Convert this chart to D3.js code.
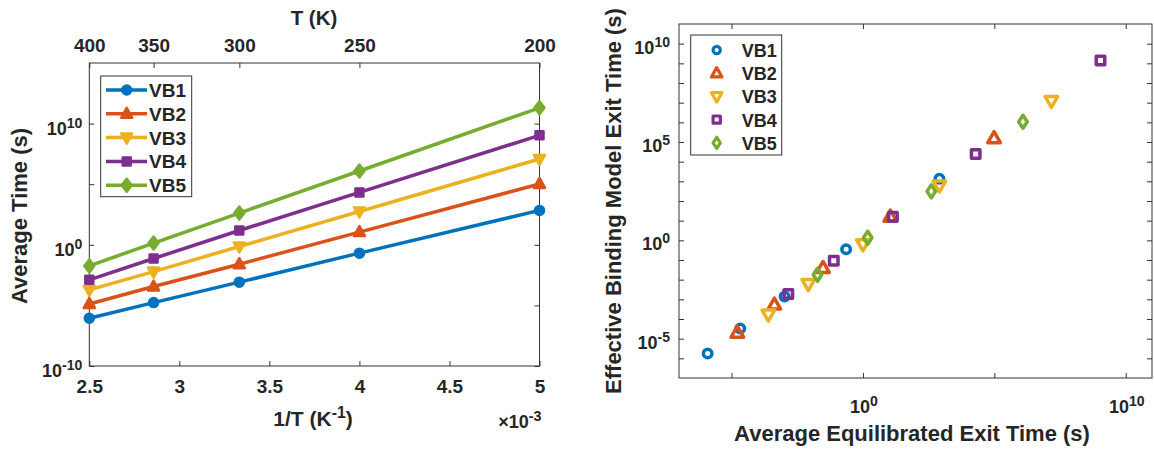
<!DOCTYPE html>
<html>
<head>
<meta charset="utf-8">
<script src="https://cdn.jsdelivr.net/npm/d3@7"></script>
<style>
  body { margin: 0; background: #fff; }
  svg text { font-family: "Liberation Sans", Arial, sans-serif; fill: #262626; font-weight: bold; }
  .axis path, .axis line { stroke: #333; }
</style>
</head>
<body>
<div id="chart"></div>
<script>
// Data (log10 of times, in s)
const series = ['VB1', 'VB2', 'VB3', 'VB4', 'VB5'];
const colors = ['#0072BD', '#D95319', '#EDB120', '#7E2F8E', '#77AC30'];
const shapes = ['circle', 'triangle', 'down', 'square', 'diamond'];

// left panel: 1/T (x 1e-3) vs average time
const invT = [2.5, 2.857, 3.333, 4, 5];
const tempTicks = [400, 350, 300, 250, 200];
const vb1Log = [-6.06, -4.77, -3.08, -0.69, 2.84];
const vb2Log = [-4.88, -3.44, -1.60, 1.05, 5.02];
const vb3Log = [-3.72, -2.21, -0.14, 2.75, 7.08];
const vb4Log = [-2.89, -1.13, 1.18, 4.32, 9.03];
const vb5Log = [-1.74, 0.14, 2.62, 6.09, 11.30];
const leftLogs = [vb1Log, vb2Log, vb3Log, vb4Log, vb5Log];

// right panel: equilibrated exit time (x) vs effective binding model exit time (y)
const eqX = [
  [-5.91, -4.67, -2.98, -0.64, 2.91],
  [-4.78, -3.37, -1.52, 1.04, 4.99],
  [-3.60, -2.08, 0.00, 2.91, 7.17],
  [-2.84, -1.11, 1.14, 4.29, 9.04],
  [-1.73, 0.18, 2.60, 6.09]
];
const ebY = [
  [-5.76, -4.48, -2.85, -0.45, 3.13],
  [-4.70, -3.27, -1.41, 1.20, 5.19],
  [-3.77, -2.22, -0.20, 2.79, 7.09],
  [-2.73, -1.04, 1.20, 4.39, 9.14],
  [-1.75, 0.13, 2.49, 6.03]
];

const svg = d3.select('#chart').append('svg')
  .attr('width', 1154).attr('height', 451);

// marker path: w = full width, h = full height
function markerPath(shape, w, h) {
  if (shape === 'circle') return d3.symbol(d3.symbolCircle, Math.PI * (w / 2) * (w / 2))();
  if (shape === 'square') return d3.symbol(d3.symbolSquare, w * w)();
  if (shape === 'diamond') return 'M0,' + (-h / 2) + 'L' + (w / 2) + ',0L0,' + (h / 2) + 'L' + (-w / 2) + ',0Z';
  if (shape === 'triangle') return 'M0,' + (-h * 0.6) + 'L' + (w / 2) + ',' + (h * 0.4) + 'L' + (-w / 2) + ',' + (h * 0.4) + 'Z';
  return 'M0,' + (h * 0.6) + 'L' + (w / 2) + ',' + (-h * 0.4) + 'L' + (-w / 2) + ',' + (-h * 0.4) + 'Z';
}
// sizes per shape [w, h]
const leftSize = { circle: [9, 9], triangle: [11, 10], down: [11, 10], square: [8, 8], diamond: [10, 13] };
const rightSize = { circle: [8.5, 8.5], triangle: [12.5, 11], down: [12.5, 11], square: [8.5, 8.5], diamond: [8.5, 13] };

// power-of-ten label with superscript
function powLabel(sel, exp) {
  sel.text('10');
  sel.append('tspan').attr('dy', '-0.5em').attr('font-size', '0.78em').text(exp);
}

// ---------- Left panel ----------
let L = { left: 89.3, right: 539.5, top: 63, bottom: 366 };
let x1 = d3.scaleLinear().domain([2.5, 5]).range([L.left, L.right]);
let y1 = d3.scaleLog().domain([1e-10, 1e15]).range([L.bottom, L.top]);

let g1 = svg.append('g');
g1.append('rect').attr('x', L.left).attr('y', L.top)
  .attr('width', L.right - L.left).attr('height', L.bottom - L.top)
  .attr('fill', 'none').attr('stroke', '#333');

// bottom axis
let xAxis1 = d3.axisBottom(x1).tickValues([2.5, 3, 3.5, 4, 4.5, 5])
  .tickSizeInner(-5).tickSizeOuter(0).tickPadding(0).tickFormat(d3.format('~g'));
g1.append('g').attr('class', 'axis').attr('transform', 'translate(0,' + L.bottom + ')')
  .call(xAxis1)
  .call(g => g.select('.domain').remove())
  .selectAll('text').attr('font-size', 19).attr('dy', null).attr('y', 27);

// top axis with temperatures
let xAxisTop = d3.axisTop(x1).tickValues(tempTicks.map(t => 1000 / t))
  .tickSizeInner(-5).tickSizeOuter(0).tickPadding(0).tickFormat((d, i) => tempTicks[i]);
g1.append('g').attr('class', 'axis').attr('transform', 'translate(0,' + L.top + ')')
  .call(xAxisTop)
  .call(g => g.select('.domain').remove())
  .selectAll('text').attr('font-size', 19).attr('dy', null).attr('y', -11);

// y ticks
let yTicks1 = [1e-10, 1e-5, 1, 1e5, 1e10];
g1.append('g').attr('class', 'axis').attr('transform', 'translate(' + L.left + ',0)')
  .call(d3.axisLeft(y1).tickValues(yTicks1).tickSizeInner(-5).tickSizeOuter(0).tickFormat(''))
  .call(g => g.select('.domain').remove());
g1.append('g').attr('class', 'axis').attr('transform', 'translate(' + L.right + ',0)')
  .call(d3.axisRight(y1).tickValues(yTicks1).tickSizeInner(-5).tickSizeOuter(0).tickFormat(''))
  .call(g => g.select('.domain').remove());
[-10, 0, 10].forEach(e => {
  let t = g1.append('text').attr('x', L.left - 7).attr('y', y1(Math.pow(10, e)) + 11)
    .attr('text-anchor', 'end').attr('font-size', 18).attr('font-weight', 'normal');
  powLabel(t, e);
});

// titles
g1.append('text').attr('x', 314).attr('y', 25)
  .attr('text-anchor', 'middle').attr('font-size', 20.5).text('T (K)');
let xt = g1.append('text').attr('x', 313).attr('y', 426)
  .attr('text-anchor', 'middle').attr('font-size', 21).text('1/T (K');
xt.append('tspan').attr('dy', '-0.5em').attr('font-size', '0.75em').text('-1');
xt.append('tspan').attr('dy', '0.375em').text(')');
let sc = g1.append('text').attr('x', L.right + 2).attr('y', 428)
  .attr('text-anchor', 'end').attr('font-size', 18).attr('font-weight', 'normal').text('\u00d710');
sc.append('tspan').attr('dy', '-0.5em').attr('font-size', '0.8em').text('-3');
g1.append('text').attr('transform', 'translate(27,216) rotate(-90)')
  .attr('text-anchor', 'middle').attr('font-size', 22).text('Average Time (s)');

// lines and markers
let line1 = d3.line().x(d => x1(d[0])).y(d => y1(Math.pow(10, d[1])));
leftLogs.forEach((vals, i) => {
  let pts = invT.map((x, j) => [x, vals[j]]);
  let sz = leftSize[shapes[i]];
  g1.append('path').datum(pts).attr('d', line1)
    .attr('fill', 'none').attr('stroke', colors[i]).attr('stroke-width', 3.5);
  g1.selectAll('.m' + i).data(pts).enter().append('path')
    .attr('transform', d => 'translate(' + x1(d[0]) + ',' + y1(Math.pow(10, d[1])) + ')')
    .attr('d', markerPath(shapes[i], sz[0], sz[1]))
    .attr('fill', colors[i]).attr('stroke', colors[i]).attr('stroke-width', 2.5)
    .attr('stroke-linejoin', 'round');
});

// legend
let lg1 = g1.append('g');
lg1.append('rect').attr('x', 100.7).attr('y', 76).attr('width', 91).attr('height', 120.7)
  .attr('fill', '#fff').attr('stroke', '#333');
series.forEach((s, i) => {
  let yy = 90 + i * 23.8;
  let sz = leftSize[shapes[i]];
  lg1.append('line').attr('x1', 106).attr('x2', 147).attr('y1', yy).attr('y2', yy)
    .attr('stroke', colors[i]).attr('stroke-width', 3.5);
  lg1.append('path').attr('transform', 'translate(126.7,' + yy + ')')
    .attr('d', markerPath(shapes[i], sz[0], sz[1])).attr('fill', colors[i])
    .attr('stroke', colors[i]).attr('stroke-width', 2.5).attr('stroke-linejoin', 'round');
  lg1.append('text').attr('x', 149).attr('y', yy + 7).attr('font-size', 19).text(s);
});

// ---------- Right panel ----------
let R = { left: 679, right: 1152, top: 24, bottom: 378 };
let x2 = d3.scaleLog().domain([1e-7, 1e11]).range([R.left, R.right]);
let y2 = d3.scaleLog().domain([1e-7, 1e11]).range([R.bottom, R.top]);

let g2 = svg.append('g');
g2.append('rect').attr('x', R.left).attr('y', R.top)
  .attr('width', R.right - R.left).attr('height', R.bottom - R.top)
  .attr('fill', 'none').attr('stroke', '#333');

let xTicks2 = [1e-5, 1, 1e5, 1e10];
let yTicks2 = d3.range(-6, 11).map(e => Math.pow(10, e));
g2.append('g').attr('class', 'axis').attr('transform', 'translate(0,' + R.bottom + ')')
  .call(d3.axisBottom(x2).tickValues(xTicks2).tickSizeInner(-5).tickSizeOuter(0).tickFormat(''))
  .call(g => g.select('.domain').remove());
g2.append('g').attr('class', 'axis').attr('transform', 'translate(0,' + R.top + ')')
  .call(d3.axisTop(x2).tickValues(xTicks2).tickSizeInner(-5).tickSizeOuter(0).tickFormat(''))
  .call(g => g.select('.domain').remove());
g2.append('g').attr('class', 'axis').attr('transform', 'translate(' + R.left + ',0)')
  .call(d3.axisLeft(y2).tickValues(yTicks2).tickSizeInner(-5).tickSizeOuter(0).tickFormat(''))
  .call(g => g.select('.domain').remove());
g2.append('g').attr('class', 'axis').attr('transform', 'translate(' + R.right + ',0)')
  .call(d3.axisRight(y2).tickValues(yTicks2).tickSizeInner(-5).tickSizeOuter(0).tickFormat(''))
  .call(g => g.select('.domain').remove());

[-5, 0, 5, 10].forEach(e => {
  let t = g2.append('text').attr('x', R.left - 9).attr('y', y2(Math.pow(10, e)) + 10)
    .attr('text-anchor', 'end').attr('font-size', 18).attr('font-weight', 'normal');
  powLabel(t, e);
});
[0, 10].forEach(e => {
  let t = g2.append('text').attr('x', x2(Math.pow(10, e)) + 1).attr('y', 413)
    .attr('text-anchor', 'middle').attr('font-size', 18).attr('font-weight', 'normal');
  powLabel(t, e);
});

g2.append('text').attr('x', 912).attr('y', 441)
  .attr('text-anchor', 'middle').attr('font-size', 22).text('Average Equilibrated Exit Time (s)');
g2.append('text').attr('transform', 'translate(621,201) rotate(-90)')
  .attr('text-anchor', 'middle').attr('font-size', 22).text('Effective Binding Model Exit Time (s)');

series.forEach((s, i) => {
  let pts = eqX[i].map((x, j) => [x, ebY[i][j]]);
  let sz = rightSize[shapes[i]];
  g2.selectAll('.p' + i).data(pts).enter().append('path')
    .attr('transform', d => 'translate(' + x2(Math.pow(10, d[0])) + ',' + y2(Math.pow(10, d[1])) + ')')
    .attr('d', markerPath(shapes[i], sz[0], sz[1]))
    .attr('fill', 'none').attr('stroke', colors[i]).attr('stroke-width', 3.5)
    .attr('stroke-linejoin', 'round');
});

let lg2 = g2.append('g');
lg2.append('rect').attr('x', 690.7).attr('y', 35).attr('width', 91).attr('height', 120)
  .attr('fill', '#fff').attr('stroke', '#333');
series.forEach((s, i) => {
  let yy = 50 + i * 23.2;
  let sz = rightSize[shapes[i]];
  lg2.append('path').attr('transform', 'translate(716.7,' + yy + ')')
    .attr('d', markerPath(shapes[i], sz[0] * 0.85, sz[1] * 0.85))
    .attr('fill', 'none').attr('stroke', colors[i]).attr('stroke-width', 3.2)
    .attr('stroke-linejoin', 'round');
  lg2.append('text').attr('x', 741.7).attr('y', yy + 7).attr('font-size', 18).text(s);
});
</script>
</body>
</html>
